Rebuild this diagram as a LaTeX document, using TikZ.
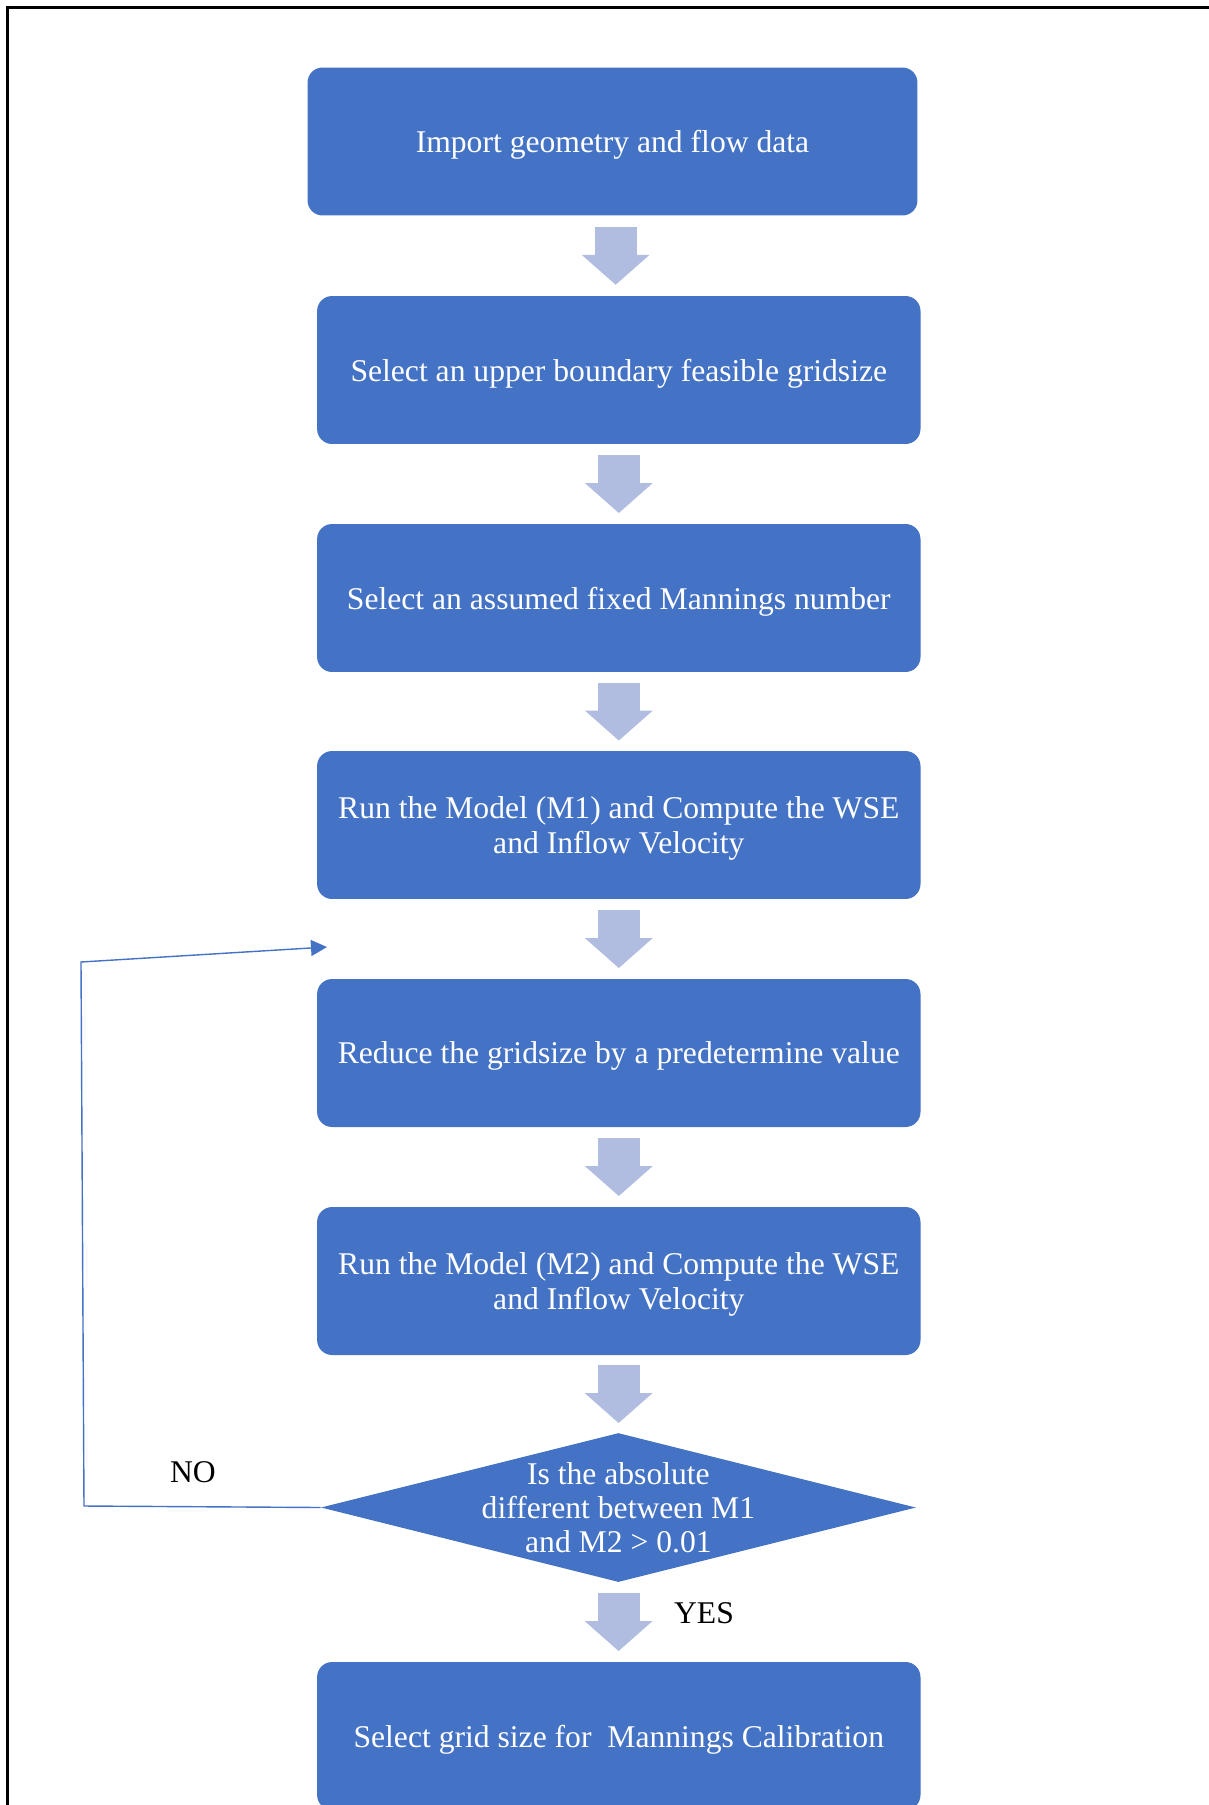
\documentclass[tikz,border=0pt]{standalone}
\usepackage{fontspec}
\setmainfont{Liberation Serif}
\usetikzlibrary{arrows.meta,calc,shapes.geometric}
\definecolor{boxblue}{HTML}{4472C4}
\definecolor{flowgray}{HTML}{B0BDE0}

\begin{document}
\begin{tikzpicture}[
  x=0.02cm,y=-0.02cm,
  font=\fontsize{18}{19.5}\selectfont,
  stepbox/.style={fill=boxblue,rounded corners=0.3cm,text=white,align=center,inner sep=0pt,text depth=0pt,minimum width=#1,minimum height=2.96cm},
  stepbox/.default=12.07cm,
  decision/.style={diamond,fill=boxblue,inner sep=0pt,minimum width=11.9cm,minimum height=2.98cm},
  dectext/.style={text=white,align=center,inner sep=0pt},
  flow/.style={line width=0.84cm,draw=flowgray,-{Triangle[length=0.6cm,width=1.36cm,line width=0pt]}},
  back/.style={draw=boxblue,line width=0.8pt,-{Triangle[length=0.32cm,width=0.32cm]}},
  lab/.style={text=black,inner sep=0pt}]
\clip (0,0) rectangle (1209,1805);
% ---- frame
\draw[line width=0.05cm] (7.5,1805) -- (7.5,7.5) -- (1209,7.5);
% ---- steps
\node[stepbox=12.2cm] (b1) at (612.5,141.5) {Import geometry and flow data};
\node[stepbox] (b2) at (618.8,370) {Select an upper boundary feasible gridsize};
\node[stepbox] (b3) at (618.8,598) {Select an assumed fixed Mannings number};
\node[stepbox] (b4) at (618.8,825) {Run the Model (M1) and Compute the WSE\\ and Inflow Velocity};
\node[stepbox] (b5) at (618.8,1053) {Reduce the gridsize by a predetermine value};
\node[stepbox] (b6) at (618.8,1281) {Run the Model (M2) and Compute the WSE\\ and Inflow Velocity};
\node[decision] (dec) at (618.4,1507.5) {};
\node[dectext] (dectxt) at (dec.center) {Is the absolute\\ different between M1\\ and M2 > 0.01};
\node[stepbox] (b7) at (618.8,1736) {Select grid size for\ \ Mannings Calibration};
% ---- block arrows
\foreach \a/\b in {b1/b2,b2/b3,b3/b4,b4/b5,b5/b6,b6/dec,dec/b7}
  \draw[flow] ($(\a.south)!0.5!(\b.north)+(0,-29)$) -- ++(0,58);
% ---- loop back
\coordinate (nolow) at (84,1506);
\coordinate (noup) at (81,962);
\coordinate (noend) at (327,947);
\draw[back] (dec.west) -- (nolow) -- (noup) -- (noend);
\node[lab] (nolab) at (193,1472) {NO};
\node[lab] (yeslab) at (704,1613) {YES};
\end{tikzpicture}
\end{document}
